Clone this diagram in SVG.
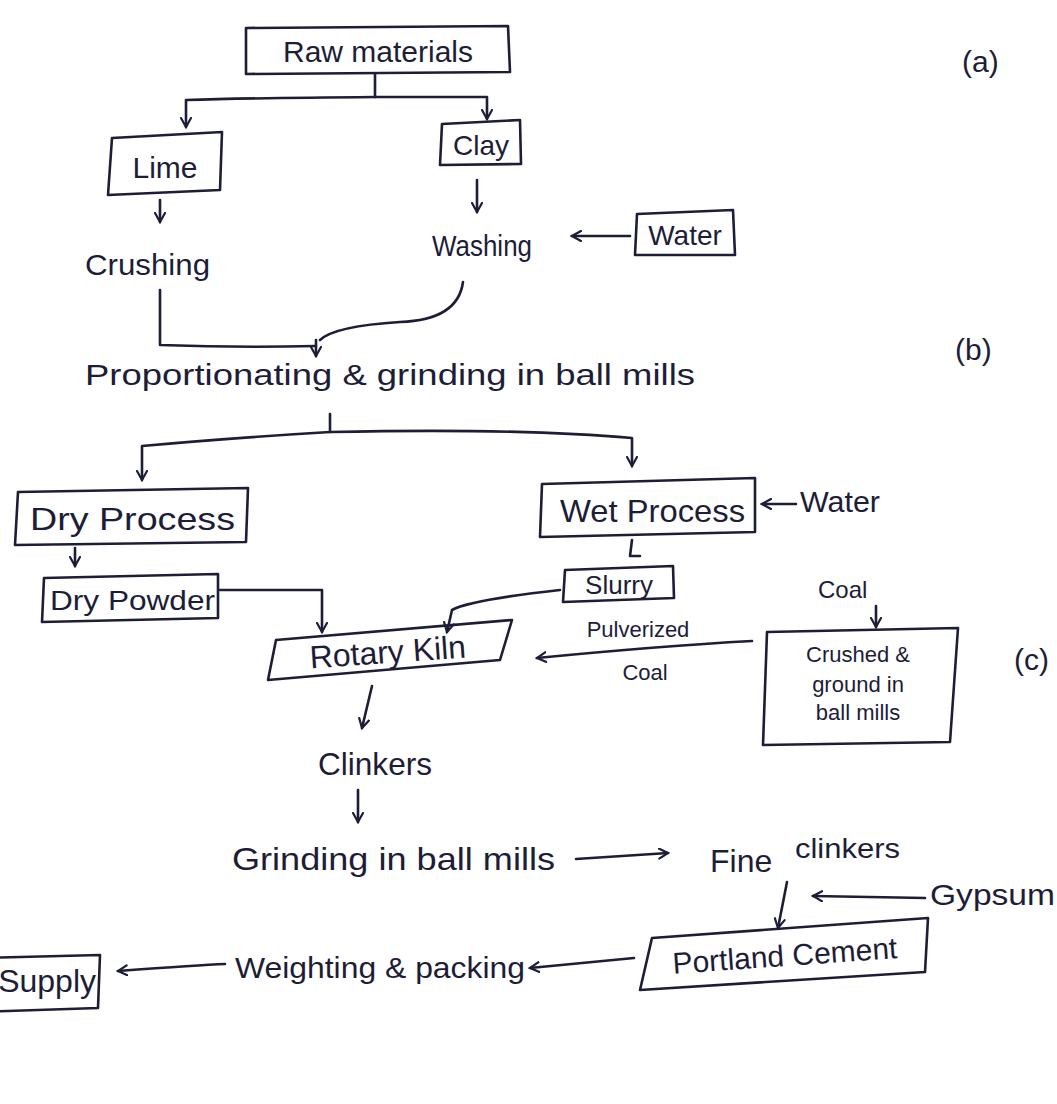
<svg xmlns="http://www.w3.org/2000/svg" width="1057" height="1104" viewBox="0 0 1057 1104">
<style>
.ink{fill:none;stroke:#1d1d38;stroke-width:2.6;stroke-linecap:round;stroke-linejoin:round}
.t{font-family:"Liberation Sans","DejaVu Sans",sans-serif;fill:#1d1d38}
</style>
<defs>
<marker id="ah" viewBox="0 0 12 12" refX="10" refY="6" markerWidth="12" markerHeight="12" markerUnits="userSpaceOnUse" orient="auto">
<path d="M1,1 L10,6 L1,11" fill="none" stroke="#1d1d38" stroke-width="2.2" stroke-linecap="round"/>
</marker>
</defs>
<rect width="1057" height="1104" fill="#ffffff"/>

<g id="labels">
<text class="t" x="962" y="72" font-size="30">(a)</text>
<text class="t" x="955" y="360" font-size="30">(b)</text>
<text class="t" x="1014" y="670" font-size="30">(c)</text>
</g>

<g id="raw-materials">
<path class="ink" d="M246,28 L508,26 L510,72 L246,74 Z"/>
<text class="t" x="378" y="62" font-size="30" text-anchor="middle">Raw materials</text>
</g>
<g id="lime">
<path class="ink" d="M112,138 L222,132 L220,190 L108,195 Z"/>
<text class="t" x="165" y="178" font-size="30" text-anchor="middle">Lime</text>
</g>
<g id="clay">
<path class="ink" d="M442,124 L520,120 L521,164 L440,165 Z"/>
<text class="t" x="481" y="155" font-size="28" text-anchor="middle">Clay</text>
</g>
<g id="crushing">
<text class="t" x="85" y="275" font-size="30" textLength="125" lengthAdjust="spacingAndGlyphs">Crushing</text>
</g>
<g id="washing">
<text class="t" x="432" y="256" font-size="30" textLength="100" lengthAdjust="spacingAndGlyphs">Washing</text>
</g>
<g id="water1">
<path class="ink" d="M637,214 L733,210 L735,255 L635,255 Z"/>
<text class="t" x="685" y="245" font-size="28" text-anchor="middle">Water</text>
</g>
<g id="proportionating">
<text class="t" x="85" y="385" font-size="30" textLength="610" lengthAdjust="spacingAndGlyphs">Proportionating &amp; grinding in ball mills</text>
</g>
<g id="dry-process">
<path class="ink" d="M18,492 L248,488 L246,542 L15,545 Z"/>
<text class="t" x="30" y="530" font-size="32" textLength="205" lengthAdjust="spacingAndGlyphs">Dry Process</text>
</g>
<g id="dry-powder">
<path class="ink" d="M44,578 L218,574 L218,618 L42,622 Z"/>
<text class="t" x="50" y="610" font-size="28" textLength="165" lengthAdjust="spacingAndGlyphs">Dry Powder</text>
</g>
<g id="wet-process">
<path class="ink" d="M542,484 L755,478 L755,532 L540,537 Z"/>
<text class="t" x="560" y="522" font-size="32" textLength="185" lengthAdjust="spacingAndGlyphs">Wet Process</text>
</g>
<g id="water2">
<text class="t" x="800" y="512" font-size="30" textLength="80" lengthAdjust="spacingAndGlyphs">Water</text>
</g>
<g id="slurry">
<path class="ink" d="M565,570 L673,566 L674,598 L563,602 Z"/>
<text class="t" x="619" y="594" font-size="26" text-anchor="middle">Slurry</text>
</g>
<g id="coal">
<text class="t" x="818" y="598" font-size="24">Coal</text>
</g>
<g id="crushed-ground">
<path class="ink" d="M767,632 L958,628 L950,742 L763,745 Z"/>
<text class="t" x="858" y="662" font-size="22" text-anchor="middle">Crushed &amp;</text>
<text class="t" x="858" y="692" font-size="22" text-anchor="middle">ground in</text>
<text class="t" x="858" y="720" font-size="22" text-anchor="middle">ball mills</text>
</g>
<g id="rotary-kiln">
<path class="ink" d="M276,640 L512,620 L500,660 L268,680 Z"/>
<text class="t" x="388" y="663" font-size="32" text-anchor="middle" transform="rotate(-4 388 655)">Rotary Kiln</text>
</g>
<g id="pulverized-coal">
<text class="t" x="638" y="637" font-size="22" text-anchor="middle">Pulverized</text>
<text class="t" x="645" y="680" font-size="22" text-anchor="middle">Coal</text>
</g>
<g id="clinkers">
<text class="t" x="318" y="775" font-size="32" textLength="114" lengthAdjust="spacingAndGlyphs">Clinkers</text>
</g>
<g id="grinding">
<text class="t" x="232" y="870" font-size="32" textLength="323" lengthAdjust="spacingAndGlyphs">Grinding in ball mills</text>
</g>
<g id="fine-clinkers">
<text class="t" x="710" y="872" font-size="32">Fine</text>
<text class="t" x="795" y="858" font-size="28" textLength="105" lengthAdjust="spacingAndGlyphs">clinkers</text>
</g>
<g id="gypsum">
<text class="t" x="930" y="905" font-size="30" textLength="125" lengthAdjust="spacingAndGlyphs">Gypsum</text>
</g>
<g id="portland-cement">
<path class="ink" d="M652,938 L928,918 L925,972 L640,990 Z"/>
<text class="t" x="785" y="966" font-size="30" text-anchor="middle" transform="rotate(-4 785 958)">Portland Cement</text>
</g>
<g id="weighting-packing">
<text class="t" x="235" y="978" font-size="30" textLength="290" lengthAdjust="spacingAndGlyphs">Weighting &amp; packing</text>
</g>
<g id="supply">
<path class="ink" d="M-20,958 L100,955 L98,1008 L-20,1012"/>
<text class="t" x="96" y="992" font-size="32" text-anchor="end">Supply</text>
</g>

<g id="connectors">
<path class="ink" d="M375,74 V97"/>
<path class="ink" d="M375,97 Q250,98 186,100 V127" marker-end="url(#ah)"/>
<path class="ink" d="M375,97 H487 V119" marker-end="url(#ah)"/>
<path class="ink" d="M160,200 V222" marker-end="url(#ah)"/>
<path class="ink" d="M477,180 V212" marker-end="url(#ah)"/>
<path class="ink" d="M630,236 H572" marker-end="url(#ah)"/>
<path class="ink" d="M160,290 V345 Q240,348 316,346"/>
<path class="ink" d="M463,282 Q458,320 400,322 Q335,326 320,340"/>
<path class="ink" d="M316,340 V356" marker-end="url(#ah)"/>
<path class="ink" d="M330,414 V430"/>
<path class="ink" d="M330,432 Q230,438 142,446 V480" marker-end="url(#ah)"/>
<path class="ink" d="M330,432 Q520,428 632,438 V466" marker-end="url(#ah)"/>
<path class="ink" d="M75,548 V566" marker-end="url(#ah)"/>
<path class="ink" d="M220,590 H322 V632" marker-end="url(#ah)"/>
<path class="ink" d="M796,504 H762" marker-end="url(#ah)"/>
<path class="ink" d="M632,540 L630,556 L640,556"/>
<path class="ink" d="M560,590 Q470,600 452,610 L447,632" marker-end="url(#ah)"/>
<path class="ink" d="M876,606 V627" marker-end="url(#ah)"/>
<path class="ink" d="M752,641 Q660,646 537,658" marker-end="url(#ah)"/>
<path class="ink" d="M372,686 L362,728" marker-end="url(#ah)"/>
<path class="ink" d="M358,790 V822" marker-end="url(#ah)"/>
<path class="ink" d="M576,859 L668,853" marker-end="url(#ah)"/>
<path class="ink" d="M787,882 L778,928" marker-end="url(#ah)"/>
<path class="ink" d="M925,898 L813,896" marker-end="url(#ah)"/>
<path class="ink" d="M634,958 L530,968" marker-end="url(#ah)"/>
<path class="ink" d="M225,964 Q200,965 118,971" marker-end="url(#ah)"/>
</g>
</svg>
